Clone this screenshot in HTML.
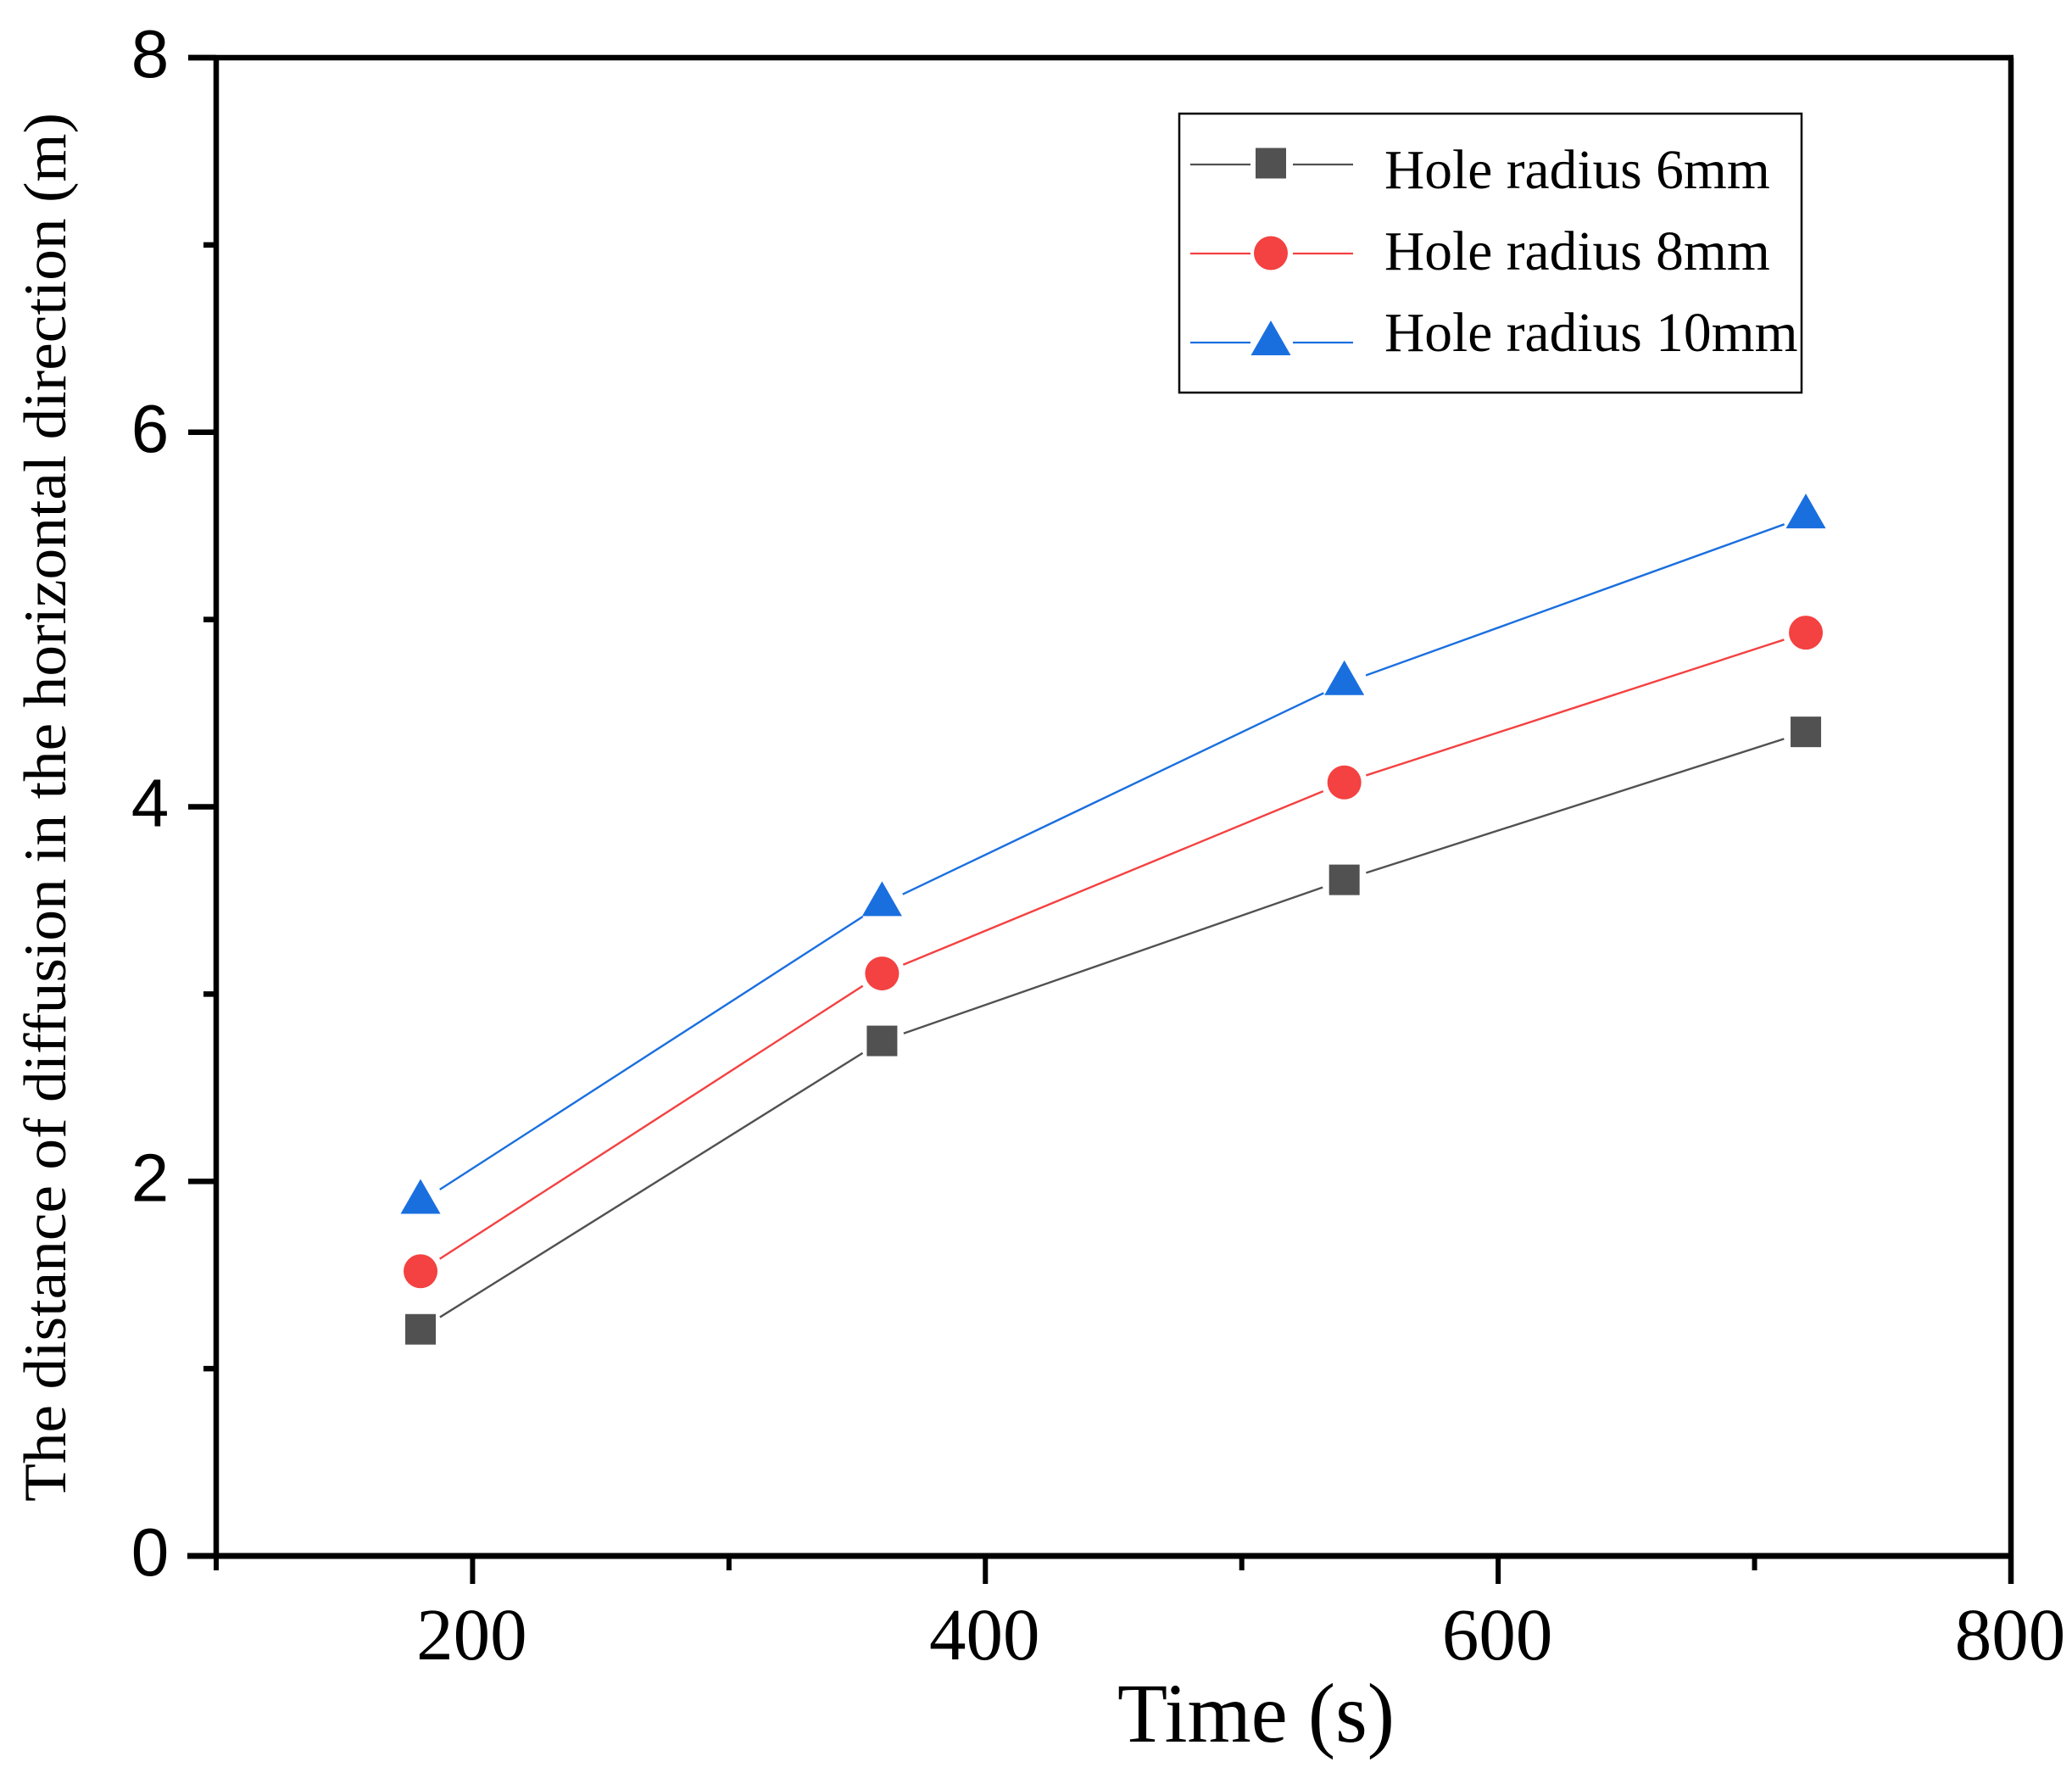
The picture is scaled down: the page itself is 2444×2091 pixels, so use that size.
<!DOCTYPE html>
<html lang="en">
<head>
<meta charset="utf-8">
<title>Diffusion distance chart</title>
<style>
html,body{margin:0;padding:0;background:#fff;width:2444px;height:2091px;overflow:hidden}
svg{display:block}
.serif{font-family:"Liberation Serif","Times New Roman",serif;fill:#000}
.sans{font-family:"Liberation Sans",Arial,sans-serif;fill:#000}
</style>
</head>
<body>
<svg id="chart" xmlns="http://www.w3.org/2000/svg" width="2444" height="2091" viewBox="0 0 2444 2091">
  <rect x="0" y="0" width="2444" height="2091" fill="#fff"/>
  <g id="axes"></g>
  <g id="series"></g>
  <g id="legend"></g>
  <text class="serif" transform="translate(77,1771) rotate(-90)" font-size="71" textLength="1638" lengthAdjust="spacingAndGlyphs">The distance of diffusion in the horizontal direction (m)</text>
  <text class="serif" x="1318" y="2054" font-size="100" textLength="327" lengthAdjust="spacingAndGlyphs">Time (s)</text>
</svg>
<script>
const times = [179.7, 359.7, 540, 720];
const radius6 = [1.21, 2.75, 3.61, 4.40];
const radius8 = [1.52, 3.11, 4.13, 4.93];
const radius10 = [1.89, 3.48, 4.66, 5.55];
const legendLabels = ['Hole radius 6mm', 'Hole radius 8mm', 'Hole radius 10mm'];
const xMajorTicks = [200, 400, 600, 800];
const xMinorTicks = [100, 300, 500, 700];
const yMajorTicks = [0, 2, 4, 6, 8];
const yMinorTicks = [1, 3, 5, 7];

const NS = 'http://www.w3.org/2000/svg';
const xDomain = [100, 800], xRange = [255, 2372];
const yDomain = [0, 8], yRange = [1835, 68];
function xScale(v) { return xRange[0] + (v - xDomain[0]) / (xDomain[1] - xDomain[0]) * (xRange[1] - xRange[0]); }
function yScale(v) { return yRange[0] + (v - yDomain[0]) / (yDomain[1] - yDomain[0]) * (yRange[1] - yRange[0]); }

function make(tag, attrs, parent) {
  const el = document.createElementNS(NS, tag);
  for (const k in attrs) el.setAttribute(k, attrs[k]);
  parent.appendChild(el);
  return el;
}
function drawMarker(kind, cx, cy, color, parent) {
  let el;
  if (kind === 'square') {
    el = make('rect', {x: cx - 18, y: cy - 18, width: 36, height: 36, fill: color}, parent);
  } else if (kind === 'circle') {
    el = make('circle', {cx: cx, cy: cy, r: 20, fill: color}, parent);
  } else {
    el = make('polygon', {points: (cx) + ',' + (cy - 27) + ' ' + (cx + 23.5) + ',' + (cy + 14) + ' ' + (cx - 23.5) + ',' + (cy + 14), fill: color}, parent);
  }
  return el;
}

const axes = document.getElementById('axes');

const frame = make('path', {d: 'M222 68H2375M255 68V1835M2372 68V1868', stroke: '#000', 'stroke-width': 6.5, fill: 'none'}, axes);


const xAxisLine = make('line', {x1: 221, y1: 1835, x2: 2375, y2: 1835, stroke: '#000', 'stroke-width': 7}, axes);



xMajorTicks.forEach(function (v) {
  const t = make('line', {x1: xScale(v), y1: 1835, x2: xScale(v), y2: 1868, stroke: '#000', 'stroke-width': 6}, axes);
  
  
  const l = make('text', {x: xScale(v) - 1, y: 1957, 'text-anchor': 'middle', 'font-size': 87, class: 'serif'}, axes);
  
  
  l.textContent = String(v);
});
xMinorTicks.forEach(function (v) {
  const t = make('line', {x1: xScale(v), y1: 1835, x2: xScale(v), y2: 1852, stroke: '#000', 'stroke-width': 6}, axes);
  
  
});
yMajorTicks.forEach(function (v) {
  const t = make('line', {x1: 222, y1: yScale(v), x2: 255, y2: yScale(v), stroke: '#000', 'stroke-width': 6.5}, axes);
  
  
  const l = make('text', {x: 177, y: yScale(v) + 23, 'text-anchor': 'middle', 'font-size': 80, class: 'sans'}, axes);
  
  
  l.textContent = String(v);
});
yMinorTicks.forEach(function (v) {
  const t = make('line', {x1: 240, y1: yScale(v), x2: 255, y2: yScale(v), stroke: '#000', 'stroke-width': 6.5}, axes);
  
  
});

const seriesGroup = document.getElementById('series');
const GAP = 27;
function drawSeries(values, color, kind, name) {
  const g = make('g', {}, seriesGroup);
  
  
  for (let i = 0; i < values.length - 1; i++) {
    const x1 = xScale(times[i]), y1 = yScale(values[i]);
    const x2 = xScale(times[i + 1]), y2 = yScale(values[i + 1]);
    const d = Math.hypot(x2 - x1, y2 - y1);
    const ux = (x2 - x1) / d, uy = (y2 - y1) / d;
    const seg = make('line', {x1: x1 + ux * GAP, y1: y1 + uy * GAP, x2: x2 - ux * GAP, y2: y2 - uy * GAP, stroke: color, 'stroke-width': 2.4}, g);
    
    
  }
  values.forEach(function (v, i) {
    const m = drawMarker(kind, xScale(times[i]), yScale(v), color, g);
    
    
  });
}
drawSeries(radius6, '#515151', 'square', 'series-radius-6mm');
drawSeries(radius8, '#F44141', 'circle', 'series-radius-8mm');
drawSeries(radius10, '#1A6FDF', 'triangle', 'series-radius-10mm');

const legend = document.getElementById('legend');
const legendBox = make('rect', {x: 1391, y: 134, width: 734, height: 329, fill: '#fff', stroke: '#000', 'stroke-width': 2.5}, legend);


const legendColors = ['#515151', '#F44141', '#1A6FDF'];
const legendKinds = ['square', 'circle', 'triangle'];
const legendLineY = [194, 299, 404];
const legendMarkerY = [192.5, 298.5, 405];
const legendBaseY = [222, 318, 414];
legendLabels.forEach(function (label, i) {
  const left = make('line', {x1: 1404, y1: legendLineY[i], x2: 1475, y2: legendLineY[i], stroke: legendColors[i], 'stroke-width': 2.2}, legend);
  
  
  const right = make('line', {x1: 1525, y1: legendLineY[i], x2: 1596, y2: legendLineY[i], stroke: legendColors[i], 'stroke-width': 2.2}, legend);
  
  
  const m = drawMarker(legendKinds[i], 1499, legendMarkerY[i], legendColors[i], legend);
  
  
  const t = make('text', {x: 1633, y: legendBaseY[i], 'font-size': 65.5, class: 'serif'}, legend);
  
  
  t.textContent = label;
});
</script>
</body>
</html>
